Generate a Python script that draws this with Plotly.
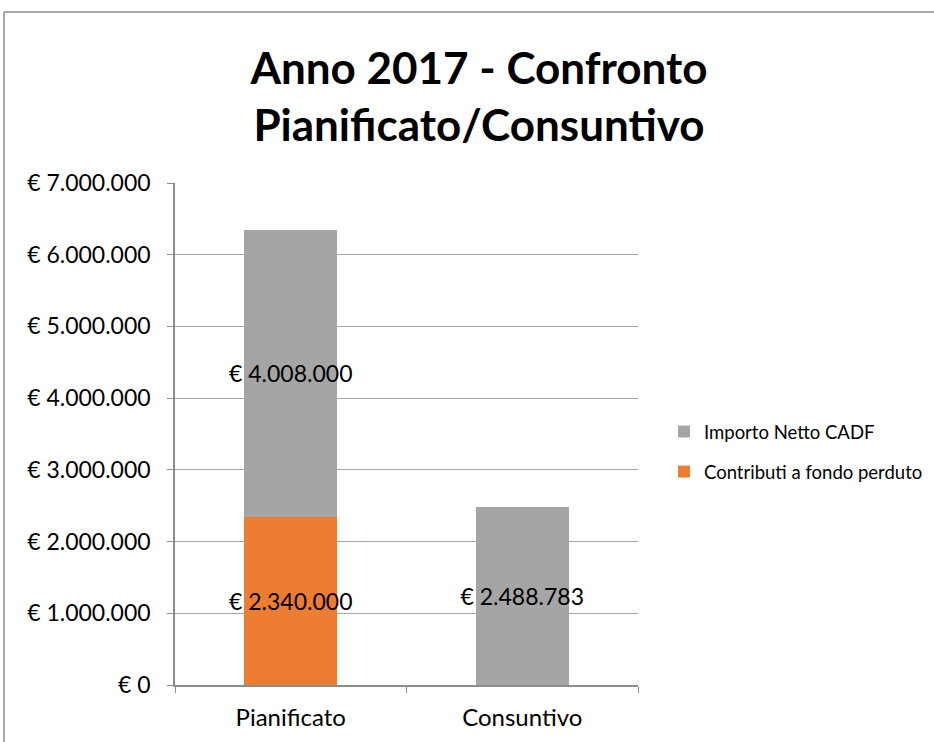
import plotly.graph_objects as go

categories = ["Pianificato", "Consuntivo"]
contributi = [2340000, None]
importo_netto = [4008000, 2488783]
contributi_labels = ["€ 2.340.000", ""]
importo_labels = ["€ 4.008.000", "€ 2.488.783"]
y_tickvals = [0, 1000000, 2000000, 3000000, 4000000, 5000000, 6000000, 7000000]
y_ticktext = ["€ 0", "€ 1.000.000", "€ 2.000.000", "€ 3.000.000", "€ 4.000.000",
              "€ 5.000.000", "€ 6.000.000", "€ 7.000.000"]

FONT = "Lato"

fig = go.Figure()
fig.add_trace(go.Bar(
    x=categories, y=contributi, name="Contributi a fondo perduto",
    legendgroup="b", legendrank=2,
    marker=dict(color="#ED7D31", line=dict(width=0)),
    text=contributi_labels, textposition="inside", textangle=0,
    insidetextanchor="middle", constraintext="none",
    textfont=dict(family=FONT, size=23, color="#000000"),
))
fig.add_trace(go.Bar(
    x=categories, y=importo_netto, name="Importo Netto CADF",
    legendgroup="a", legendrank=1,
    marker=dict(color="#A5A5A5", line=dict(width=0)),
    text=importo_labels, textposition="inside", textangle=0,
    insidetextanchor="middle", constraintext="none",
    textfont=dict(family=FONT, size=23, color="#000000"),
))

L, R, T, B = 175, 296, 183, 57
W, H = 934, 742
pw, ph = W - L - R, H - T - B
def px(x): return (x - L) / pw
def py(y): return (H - B - y) / ph

fig.update_layout(
    width=W, height=H,
    margin=dict(l=L, r=R, t=T, b=B, autoexpand=False),
    barmode="stack", bargap=0.6,
    paper_bgcolor="white", plot_bgcolor="white",
    font=dict(family=FONT, color="#000000"),
    title=dict(
        text="<b>Anno 2017 - Confronto<br>Pianificato/Consuntivo</b>",
        x=479 / W, xanchor="center", y=1 - 84 / H, yanchor="middle",
        font=dict(family=FONT, size=44, color="#000000"),
    ),
    legend=dict(
        x=px(664), y=py(413), xanchor="left", yanchor="top",
        font=dict(family=FONT, size=18.5, color="#000000"),
        tracegroupgap=13, itemwidth=30, traceorder="grouped",
    ),
    xaxis=dict(
        showline=True, linecolor="#8C8C8C", linewidth=1.5,
        ticks="outside", tickson="boundaries", ticklen=6, tickcolor="#8C8C8C",
        tickfont=dict(family=FONT, size=24, color="#000000"),
        ticklabelstandoff=10,
    ),
    yaxis=dict(
        range=[0, 7000000], tickmode="array", tickvals=y_tickvals, ticktext=y_ticktext,
        showline=True, linecolor="#8C8C8C", linewidth=1.5,
        showgrid=True, gridcolor="#A6A6A6", gridwidth=1,
        ticks="outside", ticklen=6, tickcolor="#8C8C8C",
        tickfont=dict(family=FONT, size=23, color="#000000"),
        ticklabelstandoff=12, zeroline=False,
    ),
    shapes=[
        dict(type="line", xref="paper", yref="paper",
             x0=px(4), x1=px(940), y0=py(12), y1=py(12),
             line=dict(color="#8C8C8C", width=1.5)),
        dict(type="line", xref="paper", yref="paper",
             x0=px(4), x1=px(4), y0=py(12), y1=py(750),
             line=dict(color="#8C8C8C", width=1.5)),
    ],
)

fig.write_html("out.html", config={"displayModeBar": False},
               post_script="document.body.style.margin='0px';")
